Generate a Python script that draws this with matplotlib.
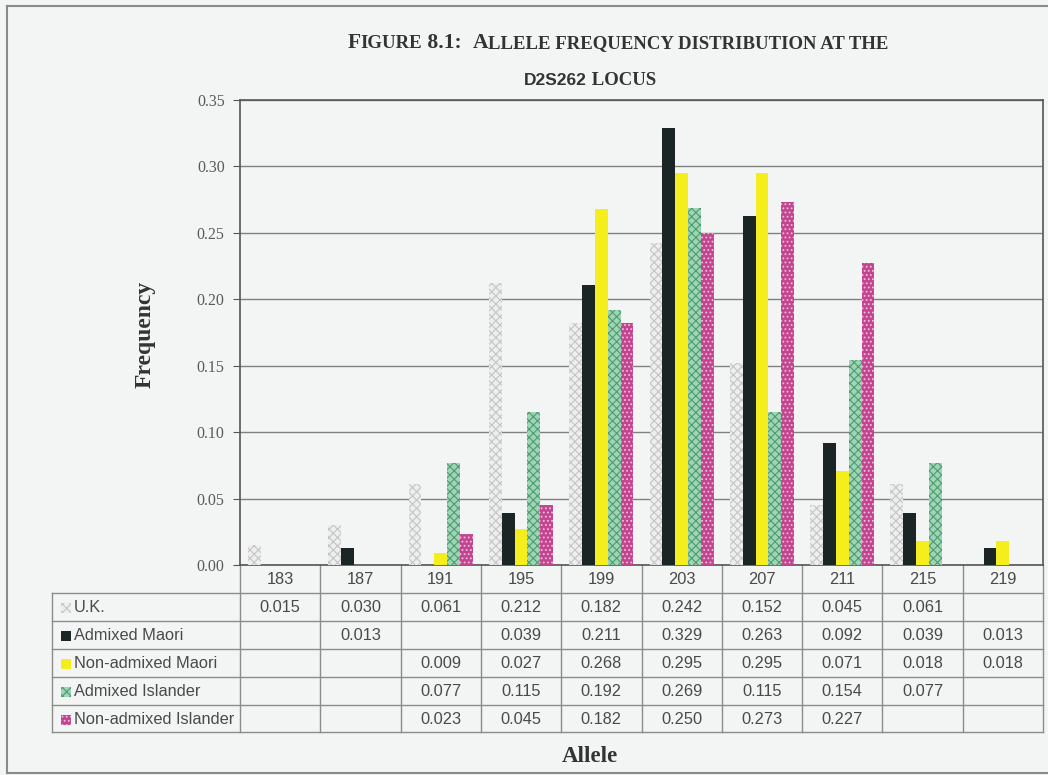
import numpy as np
import matplotlib
matplotlib.use("Agg")
from matplotlib import pyplot as plt
from matplotlib.patches import Rectangle

# allele frequencies at D2S262 (None = allele not seen)
alleles = ["183", "187", "191", "195", "199", "203", "207", "211", "215", "219"]
uk = [0.015, 0.030, 0.061, 0.212, 0.182, 0.242, 0.152, 0.045, 0.061, None]
admixed_maori = [None, 0.013, None, 0.039, 0.211, 0.329, 0.263, 0.092, 0.039, 0.013]
nonadmixed_maori = [None, None, 0.009, 0.027, 0.268, 0.295, 0.295, 0.071, 0.018, 0.018]
admixed_islander = [None, None, 0.077, 0.115, 0.192, 0.269, 0.115, 0.154, 0.077, None]
nonadmixed_islander = [None, None, 0.023, 0.045, 0.182, 0.250, 0.273, 0.227, None, None]

series_names = ["U.K.", "Admixed Maori", "Non-admixed Maori",
                "Admixed Islander", "Non-admixed Islander"]
series = [uk, admixed_maori, nonadmixed_maori, admixed_islander, nonadmixed_islander]

# face, hatch colour, hatch
styles = [("#eeeeee", "#c4c4c4", "xxxx"),
          ("#1b2525", "#1b2525", None),
          ("#f4ee1c", "#f4ee1c", None),
          ("#9fd4b6", "#4c9c6e", "xxxx"),
          ("#c4458f", "#f2bede", "....")]

BG = "#f3f4f4"
W, H = 1048, 775
plt.rcParams["hatch.linewidth"] = 0.8

fig = plt.figure(figsize=(W / 100, H / 100), dpi=100, facecolor=BG)

# overlay in pixel units for frame, title and data table
ov = fig.add_axes([0, 0, 1, 1], zorder=0)
ov.set_xlim(0, W)
ov.set_ylim(H, 0)
ov.axis("off")
ov.patch.set_alpha(0)

# plot area in pixels
px0, px1, py0, py1 = 240, 1043, 100, 565
ax = fig.add_axes([px0 / W, 1 - py1 / H, (px1 - px0) / W, (py1 - py0) / H], zorder=2)
ax.set_facecolor(BG)

n = len(alleles)
x = np.arange(n)
bw = 0.16
for i, (vals, (fc, hc, hatch)) in enumerate(zip(series, styles)):
    v = np.array([np.nan if a is None else a for a in vals], dtype=float)
    ax.bar(x + (i - 2) * bw, v, bw, color=fc, edgecolor=hc, hatch=hatch,
           linewidth=0, zorder=3)

ax.set_xlim(-0.5, n - 0.5)
ax.set_ylim(0, 0.35)
ax.set_yticks(np.arange(0, 0.351, 0.05))
ax.set_yticklabels([f"{t:.2f}" for t in np.arange(0, 0.351, 0.05)],
                   family="Liberation Serif", fontsize=11.5, color="#5a5a5a")
ax.set_xticks([])
ax.tick_params(axis="y", direction="out", length=5, color="#555555", pad=6)
ax.yaxis.grid(True, color="#808080", linewidth=1)
ax.set_axisbelow(True)
for s in ax.spines.values():
    s.set_color("#555555")
    s.set_linewidth(1.2)

# outer frame
ov.plot([7, W], [6, 6], color="#8a8a8a", lw=1.5)
ov.plot([7, 7], [6, 773], color="#8a8a8a", lw=1.5)
ov.plot([7, W], [773, 773], color="#8a8a8a", lw=1.5)

# title in small caps
renderer = fig.canvas.get_renderer()


def run_text(pieces, xc, y):
    texts = []
    for s, size, fam, weight in pieces:
        t = ov.text(0, y, s, fontsize=size, family=fam, fontweight=weight,
                    color="#333333", ha="left", va="baseline")
        texts.append(t)
    widths = [t.get_window_extent(renderer).width for t in texts]
    xx = xc - sum(widths) / 2
    for t, w in zip(texts, widths):
        t.set_x(xx)
        xx += w


serif = "Liberation Serif"
big, small = 15.5, 13.5
run_text([("F", big, serif, "bold"), ("IGURE", small, serif, "bold"),
          (" 8.1:  ", big, serif, "bold"), ("A", big, serif, "bold"),
          ("LLELE FREQUENCY DISTRIBUTION AT THE", small, serif, "bold")], 618, 48)
run_text([("D2S262", 12.5, "Liberation Sans", "bold"),
          (" LOCUS", small, serif, "bold")], 590, 85)

fig.text(145 / W, 1 - 334 / H, "Frequency", rotation=90, ha="center", va="center",
         family=serif, fontweight="bold", fontsize=17, color="#333333")
ov.text(590, 756, "Allele", ha="center", va="center",
        family=serif, fontweight="bold", fontsize=16.5, color="#333333")

# data table below the axis
cw = (px1 - px0) / n
rows = [565, 593, 621, 649, 677, 705, 732]
lc = "#8c8c8c"
tx0 = 52
for r in rows[1:]:
    ov.plot([tx0, px1], [r, r], color=lc, lw=1, zorder=1)
for j in range(n + 1):
    ov.plot([px0 + j * cw] * 2, [rows[0], rows[-1]], color=lc, lw=1, zorder=1)
ov.plot([tx0, tx0], [rows[1], rows[-1]], color=lc, lw=1, zorder=1)

tfont = dict(family="Liberation Sans", fontsize=11.8, color="#4a4a4a",
             va="center")
for j, a in enumerate(alleles):
    ov.text(px0 + (j + 0.5) * cw, (rows[0] + rows[1]) / 2 + 1, a, ha="center", **tfont)
for i, (name, vals, (fc, hc, hatch)) in enumerate(zip(series_names, series, styles)):
    yc = (rows[i + 1] + rows[i + 2]) / 2 + 1
    ov.add_patch(Rectangle((61, yc - 5), 10, 10, facecolor=fc, edgecolor=hc,
                           hatch=hatch, linewidth=0))
    ov.text(74, yc, name, ha="left", **tfont)
    for j, v in enumerate(vals):
        if v is not None:
            ov.text(px0 + (j + 0.5) * cw, yc, f"{v:.3f}", ha="center", **tfont)

fig.savefig("out.png", dpi=100, facecolor=BG)
